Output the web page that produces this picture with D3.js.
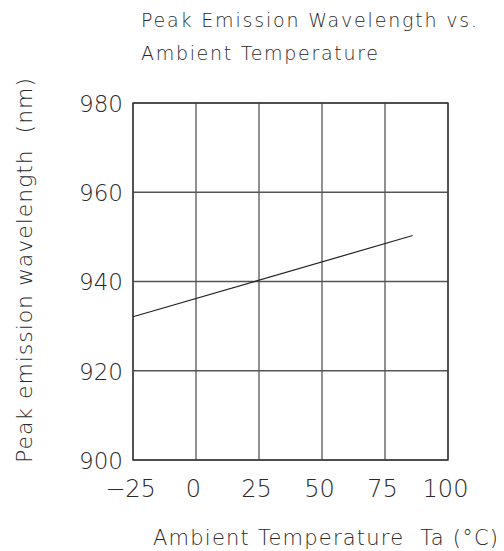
<!DOCTYPE html>
<html>
<head>
<meta charset="utf-8">
<script src="https://cdn.jsdelivr.net/npm/d3@7/dist/d3.min.js"></script>
<style>
  html, body { margin: 0; padding: 0; background: #fff; }
  svg { display: block; }
  text { font-family: "DejaVu Sans", sans-serif; font-weight: 200; fill: #2a2a2a; white-space: pre; }
</style>
</head>
<body>
<svg id="chart" width="504" height="551"></svg>
<script>
// Peak wavelength against ambient temperature
const xTicks = [-25, 0, 25, 50, 75, 100];
const yTicks = [900, 920, 940, 960, 980];
const temperature = [-25, 86];
const wavelength = [932.1, 950.3];

const titleLines = ["Peak Emission Wavelength vs.", "Ambient Temperature"];
const xLabel = "Ambient Temperature  Ta (°C)";
const yLabel = "Peak emission wavelength  (nm)";

const svg = d3.select("#chart");
const plot = { left: 133, right: 448, top: 103, bottom: 460 };

const x = d3.scaleLinear().domain([-25, 100]).range([plot.left, plot.right]);
const y = d3.scaleLinear().domain([900, 980]).range([plot.bottom, plot.top]);

// grid lines
const grid = svg.append("g").attr("stroke", "#555").attr("stroke-width", 1.3);
grid.selectAll("line.v").data(xTicks).join("line")
  .attr("x1", d => x(d)).attr("x2", d => x(d))
  .attr("y1", plot.top).attr("y2", plot.bottom);
grid.selectAll("line.h").data(yTicks).join("line")
  .attr("x1", plot.left).attr("x2", plot.right)
  .attr("y1", d => y(d)).attr("y2", d => y(d));

// frame
svg.append("rect")
  .attr("x", plot.left).attr("y", plot.top)
  .attr("width", plot.right - plot.left).attr("height", plot.bottom - plot.top)
  .attr("fill", "none").attr("stroke", "#3a3a3a").attr("stroke-width", 1.4);

// data line
const pts = temperature.map((t, i) => [t, wavelength[i]]);
svg.append("path")
  .datum(pts)
  .attr("d", d3.line().x(d => x(d[0])).y(d => y(d[1])))
  .attr("fill", "none").attr("stroke", "#222").attr("stroke-width", 1.2);

// axes (labels only; grid carries the ticks)
const xAxis = svg.append("g")
  .attr("transform", `translate(0,${plot.bottom})`)
  .call(d3.axisBottom(x).tickValues(xTicks).tickSize(0).tickPadding(0)
    .tickFormat(d => d < 0 ? "\u2212" + Math.abs(d) : d));
xAxis.select(".domain").remove();
xAxis.selectAll("text")
  .attr("y", 37).attr("dy", 0).attr("dx", -3)
  .style("font-size", "24px").style("font-family", "DejaVu Sans").style("font-weight", 200)
  .attr("fill", "#2a2a2a");

const yAxis = svg.append("g")
  .attr("transform", `translate(${plot.left},0)`)
  .call(d3.axisLeft(y).tickValues(yTicks).tickSize(0).tickPadding(0));
yAxis.select(".domain").remove();
yAxis.selectAll("text")
  .attr("x", -10).attr("dy", "0.36em")
  .style("font-size", "23px").style("font-family", "DejaVu Sans").style("font-weight", 200)
  .attr("fill", "#2a2a2a");

// title
svg.append("text").attr("x", 141).attr("y", 27)
  .attr("textLength", 336).attr("lengthAdjust", "spacing")
  .style("font-size", "19px").text(titleLines[0]);
svg.append("text").attr("x", 141).attr("y", 60)
  .attr("textLength", 237).attr("lengthAdjust", "spacing")
  .style("font-size", "19px").text(titleLines[1]);

// axis titles
svg.append("text").attr("x", 153).attr("y", 545)
  .attr("textLength", 345).attr("lengthAdjust", "spacing")
  .style("font-size", "21px").text(xLabel);
svg.append("text")
  .attr("transform", "translate(32,463) rotate(-90)")
  .attr("textLength", 385).attr("lengthAdjust", "spacing")
  .style("font-size", "22px").text(yLabel);
</script>
</body>
</html>
